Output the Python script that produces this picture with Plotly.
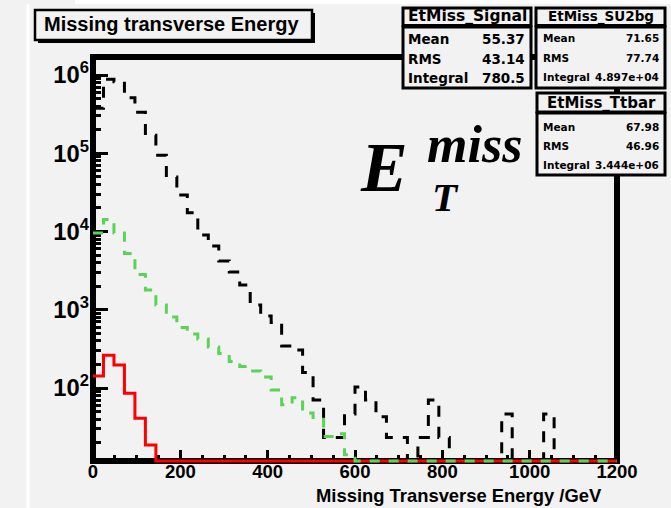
import numpy as np
import plotly.graph_objects as go

# ---- histogram data: 50 bins of 24 GeV from 0 to 1200 GeV ----
bin_edges = np.arange(0, 1201, 24)

signal = [142, 262, 197, 85.5, 41, 18.7] + [0] * 44

su2bg = [9550, 14190, 9550, 5225, 2818, 1786, 1149, 807, 593, 490,
         423, 334, 276, 218, 188, 165, 138, 94, 61, 75,
         48, 40, 24, 26, 14] + [0] * 25

ttbar = [3.77e5, 8.83e5, 8.2e5, 5.13e5, 3.35e5, 1.70e5, 9.46e4, 4.96e4, 2.92e4, 1.74e4,
         8990, 6510, 4190, 3030, 2070, 1150, 832, 687, 344, 306,
         158, 70, 23.3, 23.3, 46.6, 103, 70, 43, 23.3, 23.3,
         0, 23.3, 70, 23.3, 0, 0, 0, 0, 0, 46.6,
         0, 0, 0, 46.6, 0, 0, 0, 0, 0, 0]

x_ticks = [0, 200, 400, 600, 800, 1000, 1200]

stats = {
    "EtMiss_Signal": [("Mean", "55.37"), ("RMS", "43.14"), ("Integral", "780.5")],
    "EtMiss_SU2bg": [("Mean", "71.65"), ("RMS", "77.74"), ("Integral", "4.897e+04")],
    "EtMiss_Ttbar": [("Mean", "67.98"), ("RMS", "46.96"), ("Integral", "3.444e+06")],
}

# ---- page geometry (pixels) ----
W, H = 671, 508
PL, PR, PT, PB = 90, 620, 54, 464          # plotting region
X0_PX, X1_PX = 93, 617                      # where 0 and 1200 GeV sit
Y6_PX, DEC_PX = 75, 78.25                   # 10^6 position, pixels per decade
FRAME_TOP, FRAME_BOT = 57, 461
BG = "#f2f2f2"

gev_per_px = 1200 / (X1_PX - X0_PX)
x_range = [-(X0_PX - PL) * gev_per_px, 1200 + (PR - X1_PX) * gev_per_px]
y_range = [6 - (PB - Y6_PX) / DEC_PX, 6 + (Y6_PX - PT) / DEC_PX]
floor_val = 10 ** (6 - (FRAME_BOT - Y6_PX) / DEC_PX)   # empty bins sit on the frame


def px(x):
    return (x - PL) / (PR - PL)


def py(y):
    return (PB - y) / (PB - PT)


def step_xy(values):
    v = np.maximum(np.asarray(values, float), floor_val)
    return np.append(bin_edges[:-1], bin_edges[-1]), np.append(v, v[-1])


fig = go.Figure()
for vals, color, dash in [(ttbar, "black", "11px,10px"),
                          (signal, "#ff0000", "solid"),
                          (su2bg, "#59d454", "10px,9px")]:
    xs, ys = step_xy(vals)
    fig.add_trace(go.Scatter(x=xs, y=ys, mode="lines",
                             line=dict(shape="hv", color=color, width=3, dash=dash),
                             hoverinfo="skip", showlegend=False))

shapes = []


def rect(x0, y0, x1, y1, lw=2.5, fill=BG, line="black", layer="above"):
    shapes.append(dict(type="rect", xref="paper", yref="paper",
                       x0=px(x0), x1=px(x1), y0=py(y1), y1=py(y0),
                       line=dict(color=line, width=lw), fillcolor=fill, layer=layer))


# window edges
rect(75, 0, 671, 4, lw=0, fill="white", line="white", layer="below")
rect(26.5, 4, 29.5, 508, lw=0, fill="white", line="white", layer="below")
# frame
shapes.append(dict(type="rect", xref="paper", yref="paper",
                   x0=px(X0_PX), x1=px(X1_PX), y0=py(FRAME_BOT), y1=py(FRAME_TOP),
                   line=dict(color="black", width=6), fillcolor="rgba(0,0,0,0)", layer="below"))
# title box with shadow
rect(38, 13, 315, 43, lw=0, fill="black", line="black")
rect(35, 10, 312, 40)
# statistics boxes
rect(403, 8, 531, 25.5, lw=3)
rect(403, 27, 531, 88, lw=3)
rect(536, 8, 665, 25.5, lw=3)
rect(536, 27, 665, 88, lw=3)
rect(537, 93, 665, 112, lw=3)
rect(537, 113, 665, 175, lw=3)

annotations = []
SANS = "DejaVu Sans"
ARIAL = "Liberation Sans"


def text(s, x, y, size, xanchor="left", family=SANS, style="normal", weight="bold"):
    annotations.append(dict(text=s, x=px(x), y=py(y), xref="paper", yref="paper",
                            xanchor=xanchor, yanchor="middle", showarrow=False,
                            font=dict(family=family, size=size, color="black",
                                      weight=weight, style=style)))


text("Missing transverse Energy", 171, 24, 20, xanchor="center", family=ARIAL)
text("Missing Transverse Energy /GeV", 604, 495, 18.4, xanchor="right", family=ARIAL)

box_specs = [("EtMiss_Signal", 467, 16.5, 15.5, 406, 527, [39.5, 58.5, 77.5], 13.5),
             ("EtMiss_SU2bg", 601, 17, 13.5, 541, 661, [38.5, 58, 77], 10.5),
             ("EtMiss_Ttbar", 601, 103, 15, 541, 661, [126.5, 145.5, 165], 10.5)]
for name, hx, hy, hsize, lx, rx, rows_y, rsize in box_specs:
    text(name, hx, hy, hsize, xanchor="center")
    for (label, value), ry in zip(stats[name], rows_y):
        text(label, lx, ry, rsize)
        text(value, rx, ry, rsize, xanchor="right")

SERIF = "Liberation Serif"
text("E", 384, 167, 70, xanchor="center", family=SERIF, style="italic")
text("miss", 474, 144, 52, xanchor="center", family=SERIF, style="italic")
text("T", 445, 197, 41, xanchor="center", family=SERIF, style="italic")

fig.update_layout(
    width=W, height=H,
    margin=dict(l=PL, r=W - PR, t=PT, b=H - PB, pad=0),
    paper_bgcolor=BG, plot_bgcolor=BG,
    shapes=shapes, annotations=annotations,
    xaxis=dict(range=x_range, tickmode="array", tickvals=x_ticks,
               ticktext=[str(t) for t in x_ticks],
               ticks="inside", ticklen=14, tickwidth=3, tickcolor="black",
               ticklabelstandoff=-6,
               minor=dict(ticks="inside", ticklen=9, tickwidth=3, tickcolor="black",
                          tickmode="linear", tick0=0, dtick=50),
               showgrid=False, zeroline=False, showline=False,
               tickfont=dict(family=ARIAL, size=18.5, color="black", weight="bold"),
               layer="below traces"),
    yaxis=dict(type="log", range=y_range, dtick=1, exponentformat="power",
               ticks="inside", ticklen=18, tickwidth=3, tickcolor="black",
               minor=dict(ticks="inside", ticklen=11, tickwidth=3, tickcolor="black",
                          dtick="D1"),
               showgrid=False, zeroline=False, showline=False,
               tickfont=dict(family=ARIAL, size=19, color="black", weight="bold"),
               layer="below traces"),
)

fig.write_html("out.html")
